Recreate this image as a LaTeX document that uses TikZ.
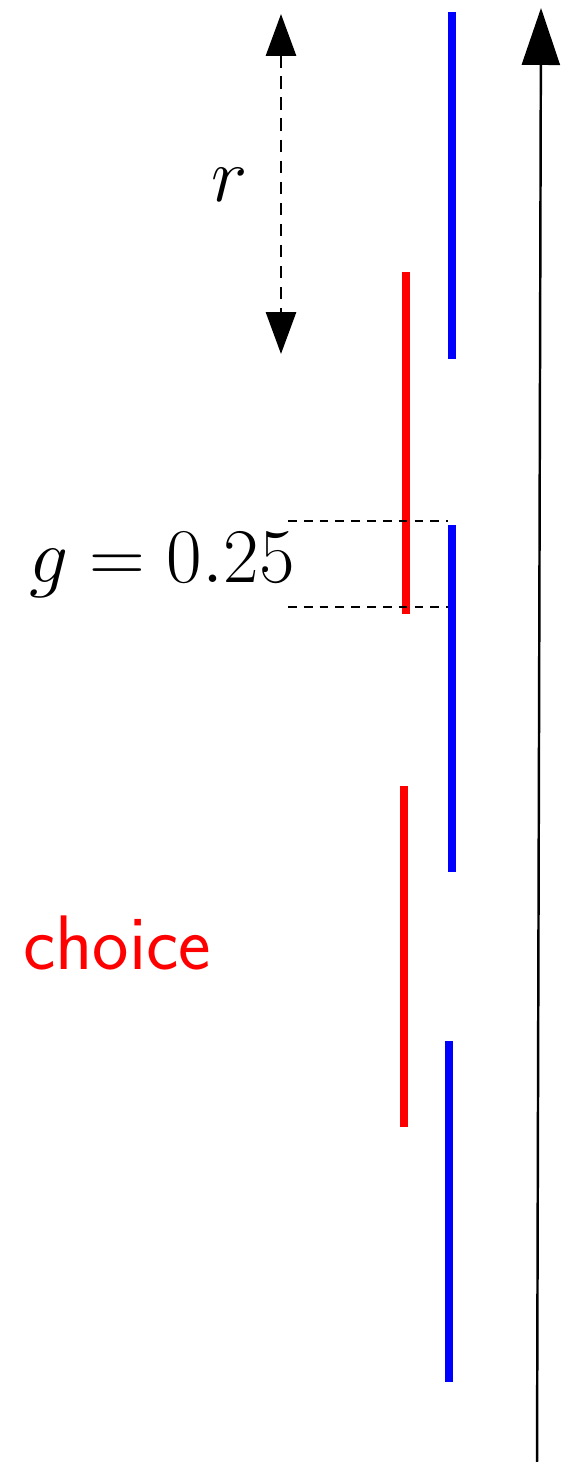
\documentclass[tikz,border=0pt]{standalone}
\usepackage{fix-cm}
\usepackage{amsmath,amssymb}
\usepackage{tikz}
\usetikzlibrary{arrows.meta,positioning}

\begin{document}
\begin{tikzpicture}[x=0.02cm,y=-0.02cm,
    bar/.style={line width=5.1pt},
    guide/.style={dashed,line width=1.3pt,dash pattern=on 5pt off 4pt},
    big/.style={font=\fontsize{44}{50}\selectfont}]
  \useasboundingbox (0,0) rectangle (571,1462);
  % time axis
  \coordinate (a0) at (537,1465);
  \coordinate (a1) at (541,8);
  \draw[line width=1.4pt,-{Triangle[length=1.14cm,width=0.76cm]}] (a0) -- (a1);
  \node[big,anchor=base] (ylab) at (414,-15) {$y$};
  % radius
  \coordinate (r0) at (281,14);
  \coordinate (r1) at (281,354);
  \draw[line width=1.7pt,dash pattern=on 7pt off 5pt,
    {Triangle[length=0.84cm,width=0.6cm]}-{Triangle[length=0.84cm,width=0.6cm]}] (r0) -- (r1);
  \node[big] (rlab) at (230,185) {$r$};
  % blue intervals
  \draw[bar,blue] (452,12) -- (452,359);
  \draw[bar,blue] (452,525) -- (452,872);
  \draw[bar,blue] (449,1041) -- (449,1382);
  % red intervals
  \draw[bar,red] (406,272) -- (406,614);
  \draw[bar,red] (404,786) -- (404,1127);
  % gap
  \coordinate (g0) at (288,521);
  \coordinate (g1) at (448,521);
  \coordinate (g2) at (288,607);
  \coordinate (g3) at (448,607);
  \draw[guide] (g0) -- (g1);
  \draw[guide] (g2) -- (g3);
  \node[big] (glab) at (162,565) {$g = 0.25$};
  \node[font=\sffamily\fontsize{44}{50}\selectfont,text=red] (clab) at (117,943) {choice};
\end{tikzpicture}
\end{document}
